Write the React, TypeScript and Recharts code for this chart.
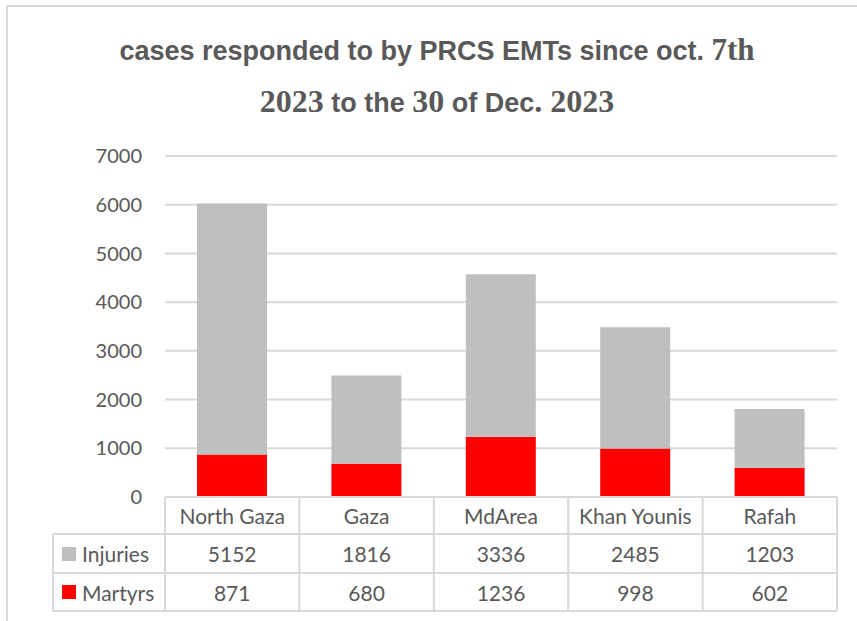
import { BarChart, Bar, XAxis, YAxis, CartesianGrid } from 'recharts';

const categories = ['North Gaza', 'Gaza', 'MdArea', 'Khan Younis', 'Rafah'];
const injuries = [5152, 1816, 3336, 2485, 1203];
const martyrs = [871, 680, 1236, 998, 602];
const yTicks = [0, 1000, 2000, 3000, 4000, 5000, 6000, 7000];

const data = categories.map((name, i) => ({ name, injuries: injuries[i], martyrs: martyrs[i] }));

const TEXT = '#595959';
const LINE = '#d9d9d9';
const GREY = '#bfbfbf';
const RED = '#ff0000';
const FONT = 'Lato, "Open Sans", sans-serif';

// geometría del área de trazado
const W = 857;
const H = 621;
const PLOT_LEFT = 165;
const PLOT_RIGHT = 837;
const PLOT_TOP = 156;
const PLOT_BOTTOM = 497;
const BAND = (PLOT_RIGHT - PLOT_LEFT) / categories.length;

// filas de la tabla de datos bajo el eje
const ROW1 = PLOT_BOTTOM;
const ROW2 = 534;
const ROW3 = 573;
const ROW4 = 611;
const TABLE_LEFT = 53;

const TableTick = (props: any) => {
  const { x, index } = props;
  const i = props.payload?.index ?? index;
  const left = x - BAND / 2;
  const right = x + BAND / 2;
  return (
    <g fontFamily={FONT} fontSize={21} fill={TEXT}>
      {i === 0 && (
        <g>
          <line x1={PLOT_LEFT} x2={PLOT_RIGHT} y1={ROW1} y2={ROW1} stroke={LINE} strokeWidth={2} />
          <line x1={TABLE_LEFT} x2={PLOT_RIGHT} y1={ROW2} y2={ROW2} stroke={LINE} strokeWidth={2} />
          <line x1={TABLE_LEFT} x2={PLOT_RIGHT} y1={ROW3} y2={ROW3} stroke={LINE} strokeWidth={2} />
          <line x1={TABLE_LEFT} x2={PLOT_RIGHT} y1={ROW4} y2={ROW4} stroke={LINE} strokeWidth={2} />
          <line x1={TABLE_LEFT} x2={TABLE_LEFT} y1={ROW2} y2={ROW4} stroke={LINE} strokeWidth={2} />
          <line x1={left} x2={left} y1={ROW1} y2={ROW4} stroke={LINE} strokeWidth={2} />
          <rect x={62} y={547} width={14} height={14} fill={GREY} />
          <text x={82} y={(ROW2 + ROW3) / 2} dominantBaseline="central">Injuries</text>
          <rect x={62} y={585} width={14} height={14} fill={RED} />
          <text x={82} y={(ROW3 + ROW4) / 2} dominantBaseline="central">Martyrs</text>
        </g>
      )}
      <line x1={right} x2={right} y1={ROW1} y2={ROW4} stroke={LINE} strokeWidth={2} />
      <text x={x} y={(ROW1 + ROW2) / 2} textAnchor="middle" dominantBaseline="central">{categories[i]}</text>
      <text x={x} y={(ROW2 + ROW3) / 2} textAnchor="middle" dominantBaseline="central">{injuries[i]}</text>
      <text x={x} y={(ROW3 + ROW4) / 2} textAnchor="middle" dominantBaseline="central">{martyrs[i]}</text>
    </g>
  );
};

const sans = { fontFamily: '"Liberation Sans", Arial, sans-serif', fontSize: 27 };
const serif = { fontFamily: '"Liberation Serif", "Times New Roman", serif', fontSize: 31 };
const serif2 = { ...serif, fontSize: 32 };

export default function App() {
  return (
    <div style={{ position: 'fixed', left: 0, top: 0, width: W, height: H, background: '#fff', overflow: 'hidden' }}>
      {/* borde exterior del gráfico, cortado a la derecha y abajo */}
      <div style={{ position: 'absolute', left: 6, top: 5, width: 900, height: 700, borderLeft: `2px solid ${LINE}`, borderTop: `2px solid ${LINE}` }} />

      <div style={{ position: 'absolute', left: 0, top: 25, width: 874, textAlign: 'center', color: TEXT, fontWeight: 'bold', lineHeight: '50px' }}>
        <div>
          <span style={sans}>cases responded to by PRCS EMTs since oct. </span>
          <span style={serif}>7th</span>
        </div>
        <div style={{ marginTop: -4 }}>
          <span style={serif2}>2023</span>
          <span style={sans}> to the </span>
          <span style={serif2}>30</span>
          <span style={sans}> of Dec</span>
          <span style={serif2}>. 2023</span>
        </div>
      </div>

      <div style={{ position: 'absolute', left: 0, top: 0 }}>
        <BarChart
          width={W}
          height={H}
          data={data}
          margin={{ top: PLOT_TOP, right: W - PLOT_RIGHT, bottom: 0, left: 0 }}
          barSize={70}
        >
          <CartesianGrid vertical={false} stroke={LINE} strokeWidth={2} />
          <XAxis
            dataKey="name"
            height={H - PLOT_BOTTOM}
            axisLine={false}
            tickLine={false}
            interval={0}
            tick={<TableTick />}
          />
          <YAxis
            width={PLOT_LEFT}
            domain={[0, 7000]}
            ticks={yTicks}
            axisLine={false}
            tickLine={false}
            tickMargin={17}
            tick={{ fill: TEXT, fontSize: 20, fontFamily: FONT }}
          />
          <Bar dataKey="martyrs" stackId="a" fill={RED} isAnimationActive={false} />
          <Bar dataKey="injuries" stackId="a" fill={GREY} isAnimationActive={false} />
        </BarChart>
      </div>
    </div>
  );
}
